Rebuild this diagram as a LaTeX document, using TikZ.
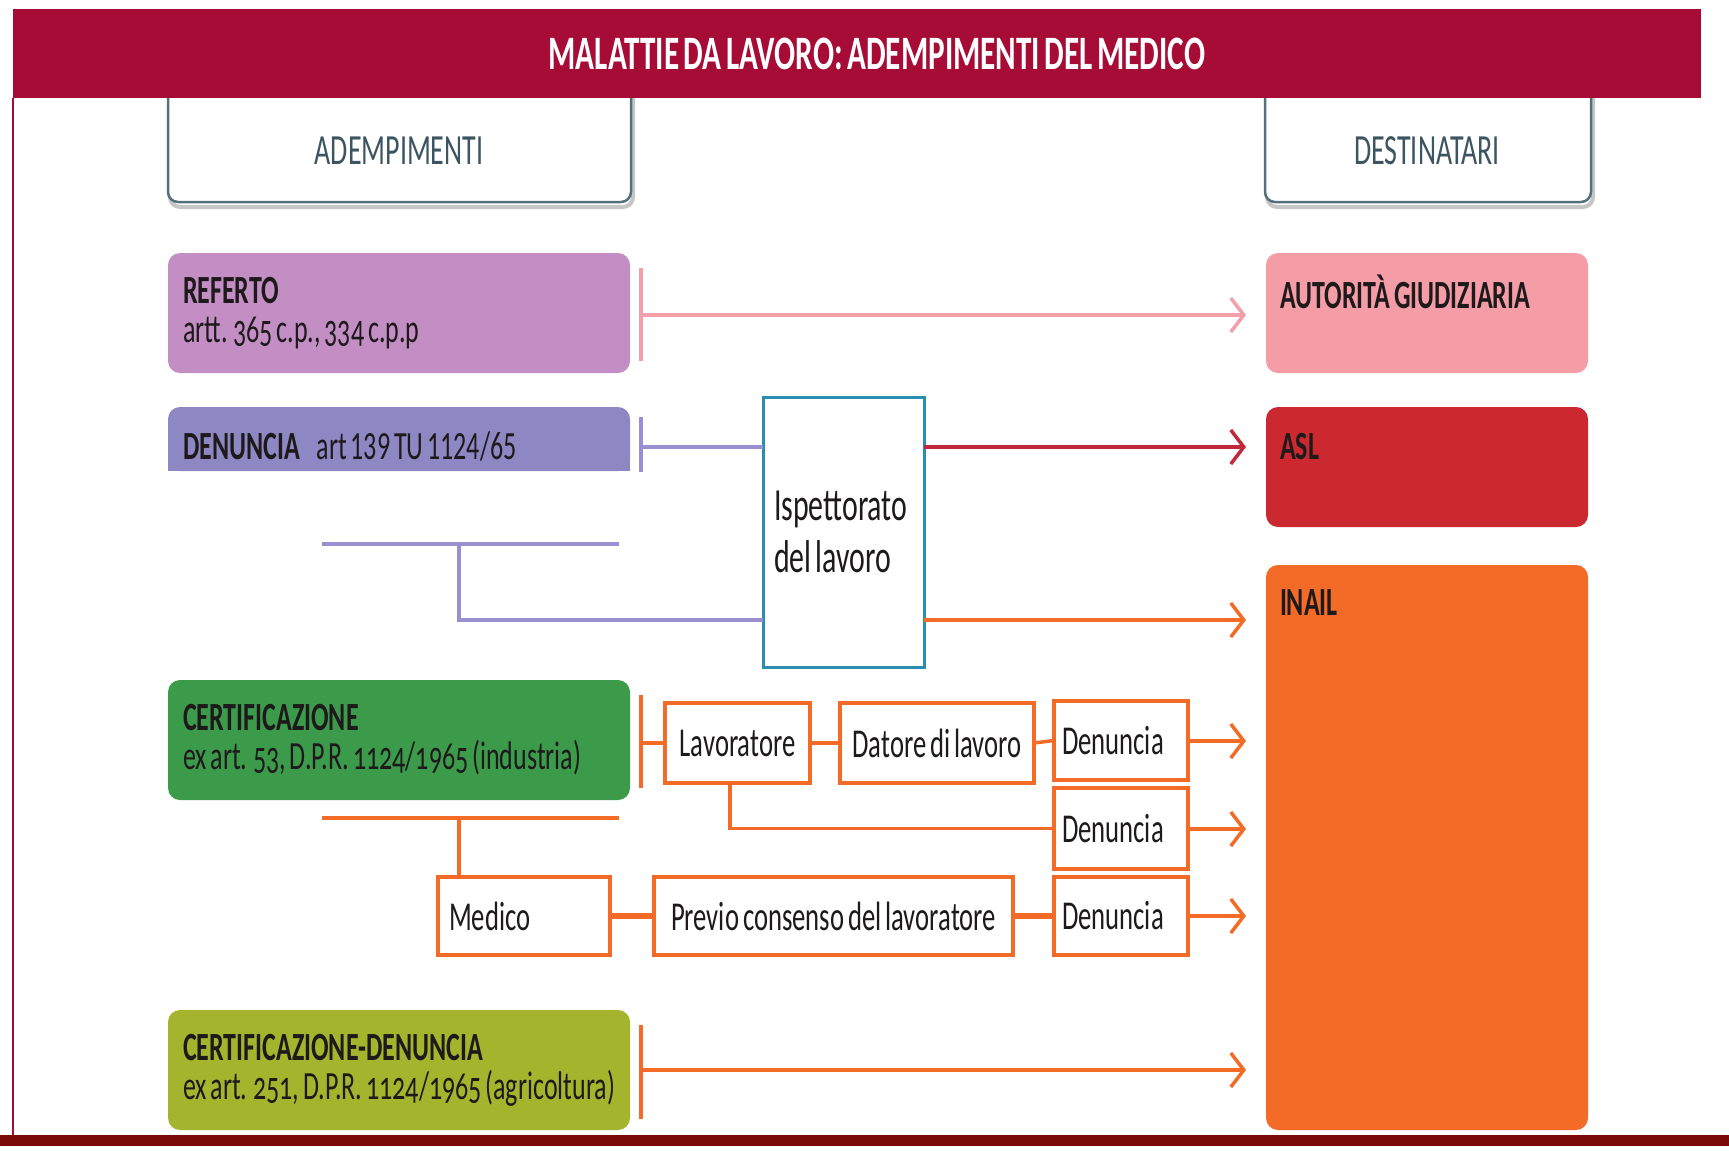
\documentclass[tikz,border=0pt]{standalone}
\usepackage{fontspec}
\setmainfont{Carlito}[FakeStretch=0.65,WordSpace=0.65]
\newfontfamily\oldnum{Carlito}[FakeStretch=0.65,WordSpace=0.65,Numbers=OldStyle]
\usetikzlibrary{arrows.meta}
\definecolor{barred}{HTML}{A60C35}
\definecolor{botred}{HTML}{7A0A0A}
\definecolor{hdrline}{HTML}{55707B}
\definecolor{hdrtxt}{HTML}{3C5561}
\definecolor{reff}{HTML}{C28EC3}
\definecolor{denf}{HTML}{8D88C4}
\definecolor{certf}{HTML}{3B9B4B}
\definecolor{cdenf}{HTML}{A4B52D}
\definecolor{autf}{HTML}{F59DA7}
\definecolor{aslf}{HTML}{CC2830}
\definecolor{inailf}{HTML}{F46A27}
\definecolor{pinkl}{HTML}{F4A0AA}
\definecolor{purpl}{HTML}{9990D2}
\definecolor{redl}{HTML}{C0283C}
\definecolor{orl}{HTML}{F46A27}
\definecolor{ispl}{HTML}{2B8DB0}
\definecolor{txt}{HTML}{1E1A1B}
\hyphenpenalty=10000
\begin{document}
\begin{tikzpicture}[x=1pt,y=-1pt,
  every node/.style={inner sep=0pt,outer sep=0pt},
  lbox/.style={rounded corners=12pt,anchor=north west,minimum height=120pt,text width=432pt,inner xsep=15pt,align=flush left,text=txt,font=\fontsize{40}{39}\selectfont},
  rbox/.style={rounded corners=12pt,anchor=north west,minimum width=322pt},
  rlab/.style={anchor=west,text=txt,font=\bfseries\fontsize{40}{40}\selectfont},
  hdrbox/.style={draw=hdrline,line width=2.5pt,fill=white,rounded corners=10pt,anchor=south west,minimum height=150pt},
  hdrshadow/.style={draw=gray!45,line width=4pt,rounded corners=10pt,anchor=south west,minimum height=150pt},
  hdrtext/.style={text=hdrtxt,font=\fontsize{43}{44}\selectfont},
  obox/.style={draw=orl,line width=3.5pt,fill=white,anchor=north west,text=txt,font=\fontsize{41}{42}\selectfont},
  conn/.style={line width=3.5pt},
  tip/.style={-{Straight Barb[length=13pt,width=34pt,line width=3.5pt]}},
]
\useasboundingbox (0,0) rectangle (1729,1152);
\fill[white] (0,0) rectangle (1729,1152);

% header boxes with shadow
\node[hdrshadow,minimum width=463pt] (hAs) at (170,207) {};
\node[hdrshadow,minimum width=326pt] (hDs) at (1267,207) {};
\node[hdrbox,minimum width=463pt] (hA) at (168,202) {};
\node[hdrbox,minimum width=326pt] (hD) at (1265,202) {};

% title bar and frame lines
\fill[barred] (13,9) rectangle (1701,98);
\draw[barred,line width=2pt] (13,98) -- (13,1136);
\fill[botred] (0,1135) rectangle (1729,1146);
\node[text=white,font=\bfseries\fontsize{48}{50}\selectfont] (title) at (877,54) {MALATTIE DA LAVORO: ADEMPIMENTI DEL MEDICO};

\node[hdrtext] (hAt) at (399,151) {ADEMPIMENTI};
\node[hdrtext] (hDt) at (1427,151) {DESTINATARI};

% left column
\node[lbox,fill=reff] (ref) at (168,253) {\textbf{REFERTO}\\{\oldnum artt. 365 c.p., 334 c.p.p}};
\fill[denf] (168,440) rectangle (630,471);
\node[rounded corners=12pt,anchor=north west,minimum width=462pt,minimum height=64pt,fill=denf] (den) at (168,407) {};
\node[anchor=base west,text=txt,font=\fontsize{40}{40}\selectfont] (dent) at (183,459) {\textbf{DENUNCIA}\hspace{17pt}art 139 TU 1124/65};
\node[lbox,fill=certf] (cert) at (168,680) {\textbf{CERTIFICAZIONE}\\{\oldnum ex art. 53, D.P.R. 1124/1965 (industria)}};
\node[lbox,fill=cdenf] (cden) at (168,1010) {\textbf{CERTIFICAZIONE-DENUNCIA}\\{\oldnum ex art. 251, D.P.R. 1124/1965 (agricoltura)}};

% right column
\node[rbox,fill=autf,minimum height=120pt] (aut) at (1266,253) {};
\node[rbox,fill=aslf,minimum height=120pt] (asl) at (1266,407) {};
\node[rbox,fill=inailf,minimum height=565pt] (inail) at (1266,565) {};
\node[rlab] (autt) at (1280,292) {AUTORITÀ GIUDIZIARIA};
\node[rlab] (aslt) at (1280,447) {ASL};
\node[rlab] (inailt) at (1280,603) {INAIL};

% Ispettorato
\node[draw=ispl,line width=3pt,fill=white,anchor=north west,minimum width=161pt,minimum height=270pt,text width=139pt,inner xsep=11pt,align=flush left,text=txt,font=\fontsize{46}{52}\selectfont] (isp) at (763,397) {Ispettorato\\del lavoro};

% orange boxes
\node[obox,minimum width=145pt,minimum height=80pt] (lav) at (665,703) {Lavoratore};
\node[obox,minimum width=194pt,minimum height=80pt] (dat) at (840,703) {Datore di lavoro};
\node[obox,minimum width=134pt,minimum height=79pt,text width=118pt,inner xsep=8pt,align=flush left] (den1) at (1054,701) {Denuncia};
\node[obox,minimum width=134pt,minimum height=81pt,text width=118pt,inner xsep=8pt,align=flush left] (den2) at (1054,788) {Denuncia};
\node[obox,minimum width=134pt,minimum height=78pt,text width=118pt,inner xsep=8pt,align=flush left] (den3) at (1054,877) {Denuncia};
\node[obox,minimum height=78pt,text width=150pt,inner xsep=11pt,align=flush left] (med) at (438,877) {Medico};
\node[obox,minimum width=359pt,minimum height=78pt] (prev) at (654,877) {Previo consenso del lavoratore};

% coordinates
\coordinate (tR1) at (641,268); \coordinate (tR2) at (641,361); \coordinate (tR) at (641,315); \coordinate (aR) at (1246,315);
\coordinate (tD1) at (641,417); \coordinate (tD2) at (641,472); \coordinate (tD) at (641,447);
\coordinate (aA) at (1246,447); \coordinate (aI) at (1246,620);
\coordinate (pA) at (322,544); \coordinate (pB) at (619,544); \coordinate (pC) at (459,544); \coordinate (pD) at (459,620);
\coordinate (tC1) at (641,695); \coordinate (tC2) at (641,788); \coordinate (tC) at (641,743);
\coordinate (a1) at (1246,741); \coordinate (a2) at (1246,829); \coordinate (a3) at (1246,916);
\coordinate (oA) at (322,818); \coordinate (oB) at (619,818); \coordinate (oC) at (459,818);
\coordinate (tE1) at (641,1025); \coordinate (tE2) at (641,1119); \coordinate (tE) at (641,1070); \coordinate (aE) at (1246,1070);
\coordinate (lavd) at (730,783);

% referto
\draw[pinkl,conn] (tR1) -- (tR2);
\draw[pinkl,conn,tip] (tR) -- (aR);
% denuncia
\draw[purpl,conn] (tD1) -- (tD2);
\draw[purpl,conn] (tD) -- (tD -| isp.west);
\draw[redl,conn,tip] (isp.east |- aA) -- (aA);
\draw[orl,conn,tip] (isp.east |- aI) -- (aI);
\draw[purpl,conn] (pA) -- (pB);
\draw[purpl,conn] (pC) -- (pD) -- (pD -| isp.west);
% certificazione
\draw[orl,conn] (tC1) -- (tC2);
\draw[orl,conn] (tC) -- (tC -| lav.west);
\draw[orl,conn] (lav.east) -- (dat.west);
\draw[orl,conn] (dat.east) -- (den1.west);
\draw[orl,conn,tip] (den1.east |- a1) -- (a1);
\draw[orl,conn] (lavd) -- (lavd |- den2.west) -- (den2.west);
\draw[orl,conn,tip] (den2.east |- a2) -- (a2);
\draw[orl,conn] (oA) -- (oB);
\draw[orl,conn] (oC) -- (oC |- med.north);
\draw[orl,line width=6pt] (med.east) -- (prev.west);
\draw[orl,line width=6pt] (prev.east) -- (den3.west);
\draw[orl,conn,tip] (den3.east |- a3) -- (a3);
% certificazione-denuncia
\draw[orl,conn] (tE1) -- (tE2);
\draw[orl,conn,tip] (tE) -- (aE);
\end{tikzpicture}
\end{document}
